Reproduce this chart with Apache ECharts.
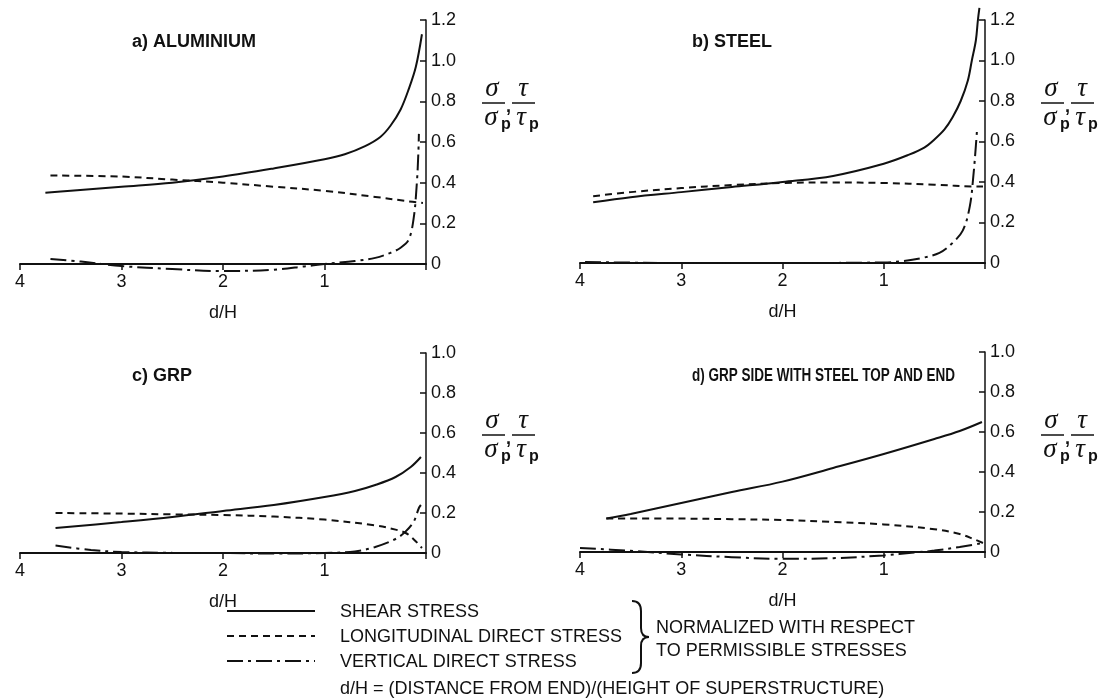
<!DOCTYPE html>
<html>
<head>
<meta charset="utf-8">
<script src="https://cdn.jsdelivr.net/npm/echarts@6/dist/echarts.min.js"></script>
<style>
  html, body { margin: 0; padding: 0; background: #fff; }
  #chart { width: 1108px; height: 699px; }
</style>
</head>
<body>
<div id="chart"></div>
<script>
// [d/H, value]
var alShear = [[3.75,0.35],[3.5,0.36],[3,0.38],[2.5,0.40],[2,0.43],[1.5,0.47],[1,0.515],[0.8,0.54],[0.6,0.58],[0.45,0.625],[0.35,0.68],[0.25,0.76],[0.17,0.86],[0.1,0.97],[0.04,1.13]];
var alLong = [[3.7,0.435],[3,0.43],[2.5,0.415],[2,0.40],[1.5,0.38],[1,0.36],[0.5,0.33],[0.2,0.31],[0.03,0.30]];
var alVert = [[3.7,0.025],[3.4,0.012],[3,-0.01],[2.5,-0.025],[2,-0.035],[1.5,-0.028],[1.2,-0.012],[1,0],[0.7,0.015],[0.5,0.03],[0.35,0.055],[0.25,0.08],[0.17,0.12],[0.12,0.23],[0.09,0.4],[0.075,0.55],[0.07,0.64]];

var stShear = [[3.87,0.30],[3.5,0.325],[3,0.35],[2.5,0.375],[2,0.40],[1.5,0.43],[1,0.49],[0.75,0.535],[0.6,0.57],[0.5,0.61],[0.4,0.66],[0.32,0.72],[0.24,0.8],[0.17,0.9],[0.13,1.0],[0.09,1.1],[0.07,1.2],[0.055,1.26]];
var stLong = [[3.87,0.33],[3.5,0.35],[3,0.37],[2.5,0.385],[2,0.395],[1.5,0.398],[1,0.395],[0.5,0.387],[0.1,0.378],[0.02,0.378]];
var stVert = [[3.95,0.005],[3,0],[2,0],[1,0.003],[0.8,0.01],[0.62,0.025],[0.45,0.05],[0.34,0.09],[0.22,0.16],[0.15,0.28],[0.115,0.43],[0.09,0.58],[0.08,0.65]];

var grpShear = [[3.65,0.125],[3,0.155],[2.5,0.18],[2,0.21],[1.5,0.24],[1,0.28],[0.7,0.31],[0.5,0.34],[0.3,0.38],[0.15,0.43],[0.05,0.48]];
var grpLong = [[3.65,0.2],[3,0.197],[2.5,0.193],[2,0.19],[1.5,0.182],[1,0.167],[0.5,0.138],[0.3,0.117],[0.2,0.1],[0.12,0.068],[0.07,0.042],[0.04,0.025]];
var grpVert = [[3.65,0.037],[3.3,0.015],[3,0.005],[2.5,0.001],[2,0],[1.5,-0.003],[1,0],[0.7,0.008],[0.5,0.03],[0.3,0.07],[0.2,0.108],[0.12,0.158],[0.07,0.225],[0.05,0.24]];

var hybShear = [[3.74,0.167],[3.5,0.19],[3,0.245],[2.5,0.3],[2,0.352],[1.5,0.42],[1,0.49],[0.5,0.565],[0.25,0.605],[0.03,0.65]];
var hybLong = [[3.74,0.167],[3,0.167],[2.5,0.164],[2,0.16],[1.5,0.15],[1,0.138],[0.5,0.114],[0.25,0.09],[0.1,0.062],[0.02,0.045]];
var hybVert = [[4,0.02],[3.5,0.006],[3,-0.012],[2.5,-0.026],[2,-0.034],[1.5,-0.031],[1,-0.017],[0.7,-0.003],[0.5,0.007],[0.25,0.025],[0.02,0.045]];

var titles = ["a) ALUMINIUM", "b) STEEL", "c) GRP", "d) GRP SIDE WITH STEEL TOP AND END"];
var yMax = [1.2, 1.2, 1.0, 1.0];
var legendNames = ["SHEAR STRESS", "LONGITUDINAL DIRECT STRESS", "VERTICAL DIRECT STRESS"];
var noteLines = ["NORMALIZED WITH RESPECT", "TO PERMISSIBLE STRESSES"];
var footNote = "d/H = (DISTANCE FROM END)/(HEIGHT OF SUPERSTRUCTURE)";

var ink = "#111";
var sans = "'Liberation Sans', Arial, sans-serif";
var dashed = [7, 5];
var dashDot = [16, 5, 3, 5];

var grids = [
    { left: 20, top: 20, width: 406, height: 244 },
    { left: 580, top: 20, width: 405, height: 243 },
    { left: 20, top: 353, width: 406, height: 200 },
    { left: 580, top: 352, width: 405, height: 200 }
];

var panels = [
    [alShear, alLong, alVert],
    [stShear, stLong, stVert],
    [grpShear, grpLong, grpVert],
    [hybShear, hybLong, hybVert]
];

var xAxes = [], yAxes = [], series = [];
for (let i = 0; i < 4; i++) {
    xAxes.push({
        type: "value", gridIndex: i, min: 0, max: 4, interval: 1, inverse: true,
        name: "d/H", nameLocation: "middle", nameGap: 40,
        nameTextStyle: { color: ink, fontSize: 18, fontFamily: sans },
        axisLine: { onZero: false, lineStyle: { color: ink, width: 2 } },
        axisTick: { inside: false, length: 6, lineStyle: { color: ink, width: 1.5 } },
        axisLabel: {
            color: ink, fontSize: 18, fontFamily: sans, margin: 9,
            formatter: function (v) { return v === 0 ? "" : String(v); }
        },
        splitLine: { show: false }
    });
    yAxes.push({
        type: "value", gridIndex: i, position: "right", min: 0, max: yMax[i], interval: 0.2,
        axisLine: { show: true, lineStyle: { color: ink, width: 1.5 } },
        axisTick: { show: true, inside: true, length: 6, lineStyle: { color: ink, width: 1.5 } },
        axisLabel: {
            color: ink, fontSize: 18, fontFamily: sans, margin: 5,
            formatter: function (v) { return v === 0 ? "0" : v.toFixed(1); }
        },
        splitLine: { show: false }
    });
    var types = ["solid", dashed, dashDot];
    for (let k = 0; k < 3; k++) {
        series.push({
            name: legendNames[k], type: "line", xAxisIndex: i, yAxisIndex: i,
            data: panels[i][k], smooth: 0.35, showSymbol: false, clip: false,
            lineStyle: { color: ink, width: 2, type: types[k] }
        });
    }
}

// sigma/sigma_p , tau/tau_p label next to each value axis
function stressLabel(x, y) {
    var serif = "italic 27px 'Liberation Serif', 'Times New Roman', serif";
    var sub = "bold 16px " + sans;
    var st = { stroke: ink, lineWidth: 1.5 };
    return {
        type: "group", x: x, y: y,
        children: [
            { type: "text", x: 10, y: -14, style: { text: "\u03c3", font: serif, fill: ink, align: "center", verticalAlign: "middle" } },
            { type: "line", shape: { x1: 0, y1: 0, x2: 23, y2: 0 }, style: st },
            { type: "text", x: 9, y: 15, style: { text: "\u03c3", font: serif, fill: ink, align: "center", verticalAlign: "middle" } },
            { type: "text", x: 19, y: 22, style: { text: "p", font: sub, fill: ink, align: "left", verticalAlign: "middle" } },
            { type: "text", x: 24, y: 4, style: { text: ",", font: "bold 18px " + sans, fill: ink, align: "left", verticalAlign: "middle" } },
            { type: "text", x: 41, y: -14, style: { text: "\u03c4", font: serif, fill: ink, align: "center", verticalAlign: "middle" } },
            { type: "line", shape: { x1: 30, y1: 0, x2: 53, y2: 0 }, style: st },
            { type: "text", x: 39, y: 15, style: { text: "\u03c4", font: serif, fill: ink, align: "center", verticalAlign: "middle" } },
            { type: "text", x: 47, y: 22, style: { text: "p", font: sub, fill: ink, align: "left", verticalAlign: "middle" } }
        ]
    };
}

function txt(x, y, s, font) {
    return { type: "text", x: x, y: y, style: { text: s, font: font, fill: ink, align: "left", verticalAlign: "middle" } };
}

function seg(x1, y1, x2, y2) {
    return { type: "line", shape: { x1: x1, y1: y1, x2: x2, y2: y2 }, style: { stroke: ink, lineWidth: 2 } };
}

function curve(x1, y1, cx, cy, x2, y2) {
    return {
        type: "bezierCurve",
        shape: { x1: x1, y1: y1, cpx1: cx, cpy1: cy, x2: x2, y2: y2 },
        style: { stroke: ink, lineWidth: 2, fill: null }
    };
}

// the long title is set tighter so it stops short of the axis
var longTitle = txt(692, 376, titles[3], "bold 18px " + sans);
longTitle.scaleX = 0.75;

var graphic = [
    txt(132, 42, titles[0], "bold 18px " + sans),
    txt(692, 42, titles[1], "bold 18px " + sans),
    txt(132, 376, titles[2], "bold 18px " + sans),
    longTitle,
    stressLabel(482, 103),
    stressLabel(1041, 103),
    stressLabel(482, 435),
    stressLabel(1041, 435)
];

// legend at the bottom
var rowY = [611, 636, 661];
var dashes = [null, dashed, dashDot];
for (let k = 0; k < 3; k++) {
    graphic.push({
        type: "line", shape: { x1: 227, y1: rowY[k], x2: 315, y2: rowY[k] },
        style: { stroke: ink, lineWidth: 2, lineDash: dashes[k] }
    });
    graphic.push(txt(340, rowY[k] + 1, legendNames[k], "18px " + sans));
}
// the brace
graphic.push(curve(632, 601, 641, 601, 641, 611));
graphic.push(seg(641, 611, 641, 628));
graphic.push(curve(641, 628, 641, 637, 649, 637));
graphic.push(curve(649, 637, 641, 637, 641, 646));
graphic.push(seg(641, 646, 641, 663));
graphic.push(curve(641, 663, 641, 673, 632, 673));
graphic.push(txt(656, 628, noteLines[0], "18px " + sans));
graphic.push(txt(656, 651, noteLines[1], "18px " + sans));
graphic.push(txt(340, 689, footNote, "18px " + sans));

var chart = echarts.init(document.getElementById("chart"));
chart.setOption({
    backgroundColor: "#fff",
    animation: false,
    grid: grids,
    xAxis: xAxes,
    yAxis: yAxes,
    series: series,
    graphic: graphic
});
</script>
</body>
</html>
